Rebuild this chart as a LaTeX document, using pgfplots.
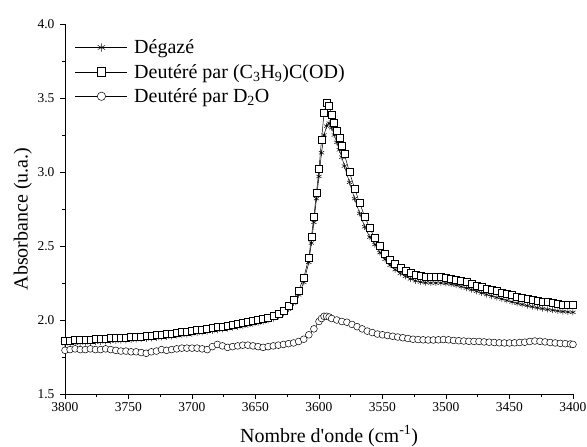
\documentclass[border=0pt]{standalone}
\usepackage{pgfplots}
\pgfplotsset{compat=1.18}
\usepackage{fontspec}
\setmainfont{Liberation Serif}
\begin{document}
\begin{tikzpicture}
\useasboundingbox (-65pt,-53pt) rectangle (522pt,394pt);
\begin{axis}[
  scale only axis,
  width=508pt, height=370pt,
  at={(0pt,0pt)}, anchor=south west,
  x dir=reverse,
  xmin=3400, xmax=3800, ymin=1.5, ymax=4.0,
  axis x line*=bottom, axis y line*=left,
  axis line style={-, line width=0.6pt},
  tick align=outside,
  tick style={black, line width=0.6pt},
  major tick length=5pt, minor tick length=3pt,
  xtick={3400,3450,...,3800},
  minor x tick num=1,
  ytick={1.5,2.0,...,4.0},
  minor y tick num=1,
  /pgf/number format/assume math mode=true,
  xticklabel style={/pgf/number format/1000 sep={}, font=\fontsize{13.5}{15}\selectfont},
  yticklabel style={/pgf/number format/.cd, fixed, fixed zerofill, precision=1, /tikz/.cd, font=\fontsize{13.5}{15}\selectfont, xshift=-2pt},
  xlabel={Nombre d\textquotesingle onde (cm\textsuperscript{-1})},
  ylabel={Absorbance (u.a.)},
  every axis x label/.style={at={(axis description cs:0.52,-0.114)}, anchor=center, font=\fontsize{20}{24}\selectfont},
  every axis y label/.style={at={(axis description cs:-0.083,0.473)}, rotate=90, anchor=center, font=\fontsize{20}{24}\selectfont},
  legend style={draw=none, fill=none, at={(axis description cs:0.0197,0.962)}, anchor=north west,
    font=\fontsize{20}{22}\selectfont, row sep=6pt, column sep=5pt, inner sep=0pt,
    nodes={inner sep=1.5pt}},
  legend cell align=left,
  legend image code/.code={\draw[mark repeat=2,mark phase=2,#1,mark size=4.2pt] plot coordinates {(0pt,0pt) (26pt,0pt) (52pt,0pt)};},
  clip=false,
]
\addplot[black, line width=0.5pt, mark=asterisk, mark size=3pt, mark options={line width=0.5pt}] coordinates {
(3800,1.840) (3796,1.842) (3792,1.844) (3788,1.846) (3784,1.847) (3780,1.849) (3776,1.851) (3772,1.853) (3768,1.855) (3764,1.857)
(3760,1.859) (3756,1.861) (3752,1.863) (3748,1.865) (3744,1.868) (3740,1.870) (3736,1.873) (3732,1.876) (3728,1.879) (3724,1.882)
(3720,1.886) (3716,1.890) (3712,1.894) (3708,1.898) (3704,1.902) (3700,1.907) (3696,1.912) (3692,1.917) (3688,1.922) (3684,1.927)
(3680,1.932) (3676,1.937) (3672,1.942) (3668,1.948) (3664,1.954) (3660,1.960) (3656,1.967) (3652,1.974) (3648,1.981) (3644,1.989)
(3640,1.998) (3636,2.010) (3632,2.025) (3628,2.045) (3624,2.073) (3620,2.115) (3616,2.170) (3612,2.255) (3608,2.390) (3606,2.520)
(3604,2.660) (3602,2.820) (3600,2.970) (3598,3.130) (3596,3.250) (3594,3.310) (3592,3.330) (3590,3.300) (3588,3.250) (3586,3.200)
(3584,3.150) (3582,3.100) (3580,3.040) (3576,2.930) (3572,2.820) (3568,2.720) (3564,2.630) (3560,2.560) (3556,2.510) (3552,2.455)
(3548,2.410) (3544,2.370) (3540,2.340) (3536,2.315) (3532,2.295) (3528,2.278) (3524,2.265) (3520,2.257) (3516,2.252) (3512,2.250)
(3508,2.250) (3504,2.250) (3500,2.247) (3496,2.242) (3492,2.235) (3488,2.226) (3484,2.216) (3480,2.205) (3476,2.194) (3472,2.183)
(3468,2.172) (3464,2.162) (3460,2.152) (3456,2.142) (3452,2.132) (3448,2.122) (3444,2.113) (3440,2.105) (3436,2.097) (3432,2.090)
(3428,2.083) (3424,2.077) (3420,2.071) (3416,2.066) (3412,2.061) (3408,2.057) (3404,2.054) (3400,2.052)
};
\addlegendentry{Dégazé}
\addplot[black, line width=0.5pt, mark=square*, mark size=3.5pt, mark options={fill=white, line width=0.5pt}] coordinates {
(3800,1.860) (3796,1.862) (3792,1.864) (3788,1.866) (3784,1.867) (3780,1.869) (3776,1.871) (3772,1.873) (3768,1.875) (3764,1.877)
(3760,1.879) (3756,1.881) (3752,1.883) (3748,1.885) (3744,1.888) (3740,1.890) (3736,1.893) (3732,1.896) (3728,1.899) (3724,1.902)
(3720,1.906) (3716,1.910) (3712,1.914) (3708,1.918) (3704,1.922) (3700,1.927) (3696,1.932) (3692,1.937) (3688,1.942) (3684,1.947)
(3680,1.952) (3676,1.957) (3672,1.962) (3668,1.968) (3664,1.974) (3660,1.980) (3656,1.987) (3652,1.994) (3648,2.001) (3644,2.009)
(3640,2.018) (3636,2.030) (3632,2.045) (3628,2.065) (3624,2.095) (3620,2.140) (3616,2.200) (3612,2.285) (3608,2.420) (3606,2.560)
(3604,2.700) (3602,2.860) (3600,3.020) (3598,3.220) (3596,3.400) (3594,3.470) (3592,3.450) (3590,3.390) (3588,3.330) (3586,3.280)
(3584,3.230) (3582,3.180) (3580,3.120) (3576,3.000) (3572,2.890) (3568,2.790) (3564,2.700) (3560,2.620) (3556,2.555) (3552,2.500)
(3548,2.450) (3544,2.410) (3540,2.380) (3536,2.355) (3532,2.335) (3528,2.318) (3524,2.305) (3520,2.297) (3516,2.292) (3512,2.290)
(3508,2.290) (3504,2.290) (3500,2.287) (3496,2.282) (3492,2.275) (3488,2.266) (3484,2.256) (3480,2.245) (3476,2.234) (3472,2.224)
(3468,2.214) (3464,2.204) (3460,2.195) (3456,2.186) (3452,2.177) (3448,2.168) (3444,2.160) (3440,2.152) (3436,2.145) (3432,2.138)
(3428,2.131) (3424,2.125) (3420,2.120) (3416,2.115) (3412,2.110) (3408,2.106) (3404,2.103) (3400,2.100)
};
\addlegendentry{Deutéré par (C\textsubscript{3}H\textsubscript{9})C(OD)}
\addplot[black, line width=0.5pt, mark=*, mark size=3.4pt, mark options={fill=white, line width=0.5pt}] coordinates {
(3800,1.795) (3796,1.800) (3792,1.805) (3788,1.800) (3784,1.800) (3780,1.805) (3776,1.800) (3772,1.800) (3768,1.805) (3764,1.800)
(3760,1.795) (3756,1.790) (3752,1.790) (3748,1.785) (3744,1.785) (3740,1.780) (3736,1.775) (3732,1.785) (3728,1.790) (3724,1.800)
(3720,1.795) (3716,1.800) (3712,1.805) (3708,1.810) (3704,1.810) (3700,1.810) (3696,1.810) (3692,1.805) (3688,1.800) (3684,1.820)
(3680,1.835) (3676,1.825) (3672,1.815) (3668,1.820) (3664,1.825) (3660,1.830) (3656,1.830) (3652,1.825) (3648,1.820) (3644,1.815)
(3640,1.820) (3636,1.825) (3632,1.830) (3628,1.835) (3624,1.840) (3620,1.845) (3616,1.855) (3612,1.870) (3608,1.900) (3604,1.940)
(3600,1.990) (3598,2.010) (3596,2.025) (3594,2.025) (3592,2.020) (3590,2.010) (3586,2.000) (3582,1.990) (3578,1.985) (3574,1.970)
(3570,1.955) (3566,1.940) (3562,1.925) (3558,1.915) (3554,1.905) (3550,1.900) (3546,1.895) (3542,1.890) (3538,1.885) (3534,1.880)
(3530,1.875) (3526,1.870) (3522,1.868) (3518,1.866) (3514,1.865) (3510,1.865) (3506,1.866) (3502,1.868) (3498,1.866) (3494,1.862)
(3490,1.860) (3486,1.858) (3482,1.856) (3478,1.855) (3474,1.855) (3470,1.852) (3466,1.850) (3462,1.848) (3458,1.846) (3454,1.845)
(3450,1.845) (3446,1.846) (3442,1.848) (3438,1.850) (3434,1.855) (3430,1.858) (3426,1.856) (3422,1.852) (3418,1.848) (3414,1.845)
(3410,1.842) (3406,1.840) (3402,1.838) (3400,1.835)
};
\addlegendentry{Deutéré par D\textsubscript{2}O}
\end{axis}
\end{tikzpicture}
\end{document}
